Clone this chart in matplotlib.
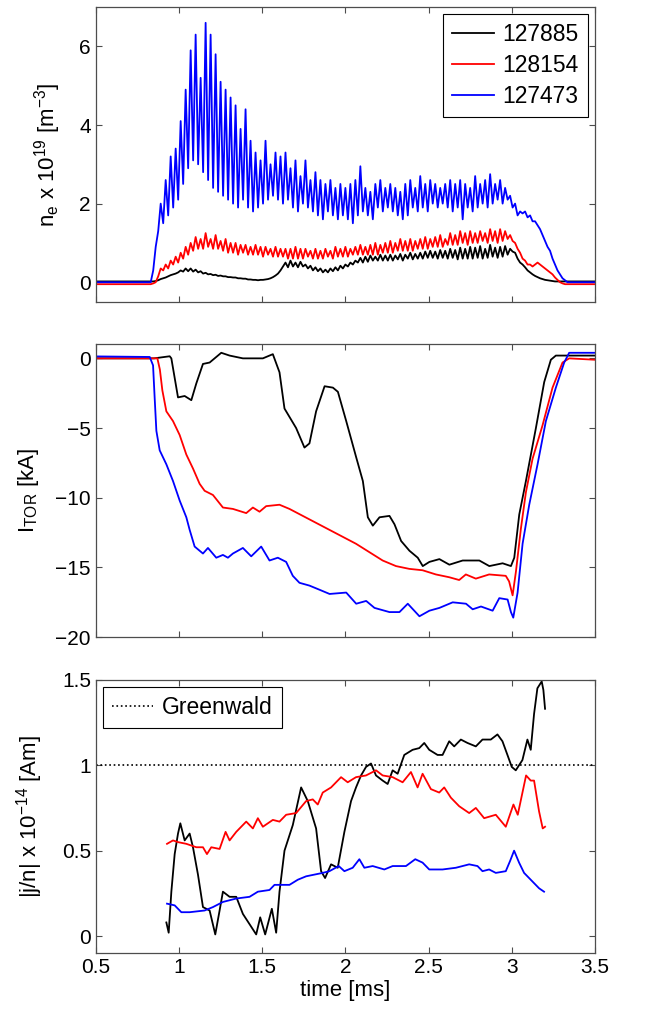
import numpy as np
import matplotlib
matplotlib.use("Agg")
import matplotlib.pyplot as plt

plt.rcParams['font.family'] = ['Liberation Sans', 'DejaVu Sans']
plt.rcParams['mathtext.default'] = 'regular'
plt.rcParams['font.size'] = 15

shots = ['127885', '128154', '127473']
colors = ['k', 'r', 'b']

# ---- top panel: n_e (sampled every 0.015 ms from 0.5 ms)
t_ne = np.round(0.5 + 0.015 * np.arange(201), 3)

ne_black = [0.02] * 23 + [
    0.02, 0.03, 0.05, 0.08, 0.1, 0.12, 0.15, 0.18, 0.2, 0.22,
    0.25, 0.3, 0.27, 0.35, 0.28, 0.35, 0.27, 0.32, 0.25, 0.28,
    0.22, 0.24, 0.2, 0.21, 0.18, 0.19, 0.16, 0.17, 0.15, 0.15,
    0.13, 0.13, 0.12, 0.12, 0.1, 0.1, 0.09, 0.09, 0.07, 0.07,
    0.06, 0.06, 0.05, 0.06, 0.06, 0.07, 0.08, 0.1, 0.13, 0.17,
    0.22, 0.3, 0.4, 0.5, 0.38, 0.55, 0.4, 0.5, 0.38, 0.52,
    0.4, 0.45, 0.35, 0.42, 0.3, 0.38, 0.28, 0.35, 0.25, 0.32,
    0.25, 0.35, 0.28, 0.38, 0.3, 0.42, 0.35, 0.45, 0.4, 0.5,
    0.45, 0.55, 0.5, 0.62, 0.5, 0.65, 0.52, 0.68, 0.55, 0.65,
    0.55, 0.7, 0.55, 0.68, 0.55, 0.7, 0.55, 0.68, 0.58, 0.72,
    0.55, 0.7, 0.6, 0.75, 0.58, 0.72, 0.6, 0.75, 0.6, 0.78,
    0.62, 0.8, 0.62, 0.78, 0.6, 0.82, 0.62, 0.8, 0.6, 0.85,
    0.62, 0.82, 0.58, 0.88, 0.6, 0.85, 0.6, 0.9, 0.6, 0.88,
    0.62, 0.92, 0.6, 0.85, 0.62, 0.95, 0.65, 0.88, 0.62, 0.9,
    0.65, 0.92, 0.7, 0.85, 0.78, 0.75, 0.6, 0.5, 0.45, 0.38,
    0.3, 0.25, 0.2, 0.16, 0.13, 0.1, 0.08, 0.06, 0.05, 0.04,
    0.03] + [0.02] * 17

ne_red = [-0.05] * 23 + [
    -0.03, 0.0, 0.15, 0.35, 0.3, 0.45, 0.35, 0.55, 0.45, 0.65,
    0.5, 0.75, 0.6, 0.9, 0.7, 1.0, 0.8, 1.15, 0.85, 1.1,
    0.85, 1.25, 0.9, 1.1, 0.85, 1.2, 0.85, 1.05, 0.8, 1.1,
    0.75, 1.0, 0.75, 1.0, 0.7, 0.95, 0.75, 0.95, 0.7, 0.9,
    0.7, 0.95, 0.7, 0.9, 0.65, 0.9, 0.7, 0.85, 0.65, 0.9,
    0.65, 0.85, 0.65, 0.85, 0.6, 0.85, 0.6, 0.9, 0.6, 0.85,
    0.6, 0.85, 0.65, 0.8, 0.6, 0.85, 0.6, 0.8, 0.6, 0.85,
    0.65, 0.8, 0.6, 0.9, 0.65, 0.85, 0.65, 0.9, 0.65, 0.85,
    0.7, 0.9, 0.7, 0.95, 0.7, 0.9, 0.7, 0.95, 0.7, 1.0,
    0.7, 0.95, 0.75, 1.0, 0.75, 1.05, 0.75, 1.0, 0.8, 1.1,
    0.8, 1.05, 0.8, 1.1, 0.8, 1.05, 0.85, 1.1, 0.85, 1.15,
    0.85, 1.1, 0.9, 1.15, 0.9, 1.2, 0.9, 1.1, 0.95, 1.25,
    0.95, 1.2, 0.95, 1.3, 1.0, 1.25, 0.95, 1.3, 1.0, 1.25,
    1.0, 1.3, 1.05, 1.25, 1.0, 1.35, 1.05, 1.3, 1.0, 1.35,
    1.05, 1.3, 1.1, 1.2, 1.05, 1.0, 0.85, 0.75, 0.6, 0.55,
    0.45, 0.45, 0.4, 0.45, 0.5, 0.45, 0.4, 0.35, 0.3, 0.25,
    0.2, 0.12, 0.06, 0.0, -0.03] + [-0.05] * 13

ne_blue = [0.0] * 23 + [
    0.3, 0.9, 1.3, 2.0, 1.5, 2.6, 1.7, 3.2, 1.9, 3.4,
    2.1, 4.1, 2.5, 4.9, 2.9, 5.9, 3.1, 6.3, 3.0, 5.2,
    2.8, 6.6, 2.6, 6.3, 2.4, 5.8, 2.3, 5.1, 2.2, 4.9,
    2.1, 4.7, 2.0, 4.5, 1.9, 3.9, 2.1, 4.4, 1.9, 3.6,
    1.8, 3.3, 1.9, 3.1, 2.0, 3.6, 2.1, 3.0, 2.2, 3.3,
    2.1, 3.2, 2.0, 3.3, 2.1, 2.9, 1.9, 3.1, 1.8, 2.7,
    2.0, 3.1, 1.9, 2.6, 1.8, 2.8, 1.7, 2.6, 1.6, 2.5,
    1.8, 2.6, 1.7, 2.4, 1.6, 2.5, 1.7, 2.4, 1.6, 2.5,
    1.5, 2.6, 1.7, 2.95, 1.8, 2.4, 1.7, 2.3, 1.6, 2.5,
    1.9, 2.6, 1.8, 2.4, 1.9, 2.5, 1.8, 2.4, 1.7, 2.3,
    1.6, 2.5, 1.7, 2.6, 1.9, 2.4, 1.8, 2.7, 1.9, 2.5,
    1.8, 2.6, 2.0, 2.5, 1.9, 2.4, 2.0, 2.5, 1.9, 2.6,
    1.8, 2.5, 1.9, 2.6, 1.6, 2.5, 1.9, 2.4, 1.8, 2.7,
    1.9, 2.5, 2.0, 2.6, 1.9, 2.75, 2.0, 2.5, 2.1, 2.6,
    2.0, 2.4, 2.1, 2.2, 1.9, 2.0, 1.7, 1.8, 1.75, 1.8,
    1.65, 1.7, 1.55, 1.55, 1.45, 1.35, 1.2, 1.05, 0.9, 0.8,
    0.6, 0.45, 0.3, 0.2, 0.1, 0.05] + [0.0] * 12

# ---- middle panel: toroidal current [kA]
t_itor_black = [0.5, 0.85, 0.944, 0.954, 0.994, 1.034, 1.074, 1.104, 1.144, 1.184,
                1.254, 1.304, 1.384, 1.504, 1.564, 1.604, 1.634, 1.704, 1.754, 1.784,
                1.824, 1.875, 1.925, 1.955, 2.005, 2.065, 2.105, 2.135, 2.165, 2.205,
                2.265, 2.295, 2.335, 2.385, 2.435, 2.465, 2.505, 2.565, 2.625, 2.705,
                2.805, 2.865, 2.945, 2.995, 3.015, 3.045, 3.085, 3.145, 3.195, 3.235,
                3.265, 3.5]
itor_black = [0.0, 0.0, 0.15, 0.0, -2.8, -2.7, -3.0, -1.8, -0.4, -0.3,
              0.4, 0.2, 0.0, 0.0, 0.3, -1.0, -3.6, -5.0, -6.4, -6.1,
              -3.8, -2.0, -2.1, -2.4, -4.5, -7.1, -8.8, -11.4, -12.0, -11.4,
              -11.3, -11.9, -13.1, -13.8, -14.3, -14.9, -14.6, -14.4, -14.8, -14.5,
              -14.5, -14.9, -14.7, -14.9, -14.3, -11.2, -8.8, -5.0, -1.7, -0.1,
              0.2, 0.2]

t_itor_red = [0.5, 0.87, 0.885, 0.90, 0.924, 0.964, 1.004, 1.044, 1.084, 1.124,
              1.154, 1.204, 1.264, 1.324, 1.404, 1.444, 1.484, 1.524, 1.604, 1.664,
              1.744, 1.824, 1.904, 1.984, 2.064, 2.144, 2.224, 2.304, 2.384, 2.464,
              2.544, 2.624, 2.684, 2.724, 2.784, 2.864, 2.964, 2.984, 3.005, 3.025,
              3.055, 3.085, 3.125, 3.185, 3.245, 3.305, 3.345, 3.5]
itor_red = [0.0, 0.0, -0.8, -2.3, -3.8, -4.5, -5.5, -6.9, -7.9, -9.0,
            -9.5, -9.8, -10.7, -10.8, -11.1, -10.7, -11.0, -10.6, -10.5, -10.8,
            -11.3, -11.8, -12.3, -12.8, -13.3, -13.9, -14.5, -14.9, -15.1, -15.2,
            -15.5, -15.7, -15.9, -15.5, -15.8, -15.5, -15.6, -16.0, -17.0, -15.3,
            -12.2, -9.6, -7.2, -4.8, -2.1, -0.3, 0.0, -0.1]

t_itor_blue = [0.5, 0.824, 0.844, 0.854, 0.864, 0.884, 0.924, 0.964, 1.004, 1.044,
               1.064, 1.094, 1.144, 1.174, 1.224, 1.264, 1.294, 1.324, 1.384, 1.434,
               1.494, 1.544, 1.594, 1.644, 1.684, 1.724, 1.784, 1.845, 1.905, 2.005,
               2.065, 2.125, 2.175, 2.265, 2.325, 2.375, 2.445, 2.505, 2.565, 2.645,
               2.725, 2.765, 2.815, 2.885, 2.925, 2.975, 2.995, 3.009, 3.035, 3.065,
               3.105, 3.155, 3.205, 3.265, 3.315, 3.345, 3.5]
itor_blue = [0.14, 0.1, -0.5, -2.9, -5.2, -6.6, -7.6, -8.8, -10.2, -11.4,
             -12.3, -13.5, -14.0, -13.6, -14.3, -14.1, -14.3, -14.0, -13.6, -14.2,
             -13.5, -14.5, -14.3, -14.6, -15.6, -16.1, -16.3, -16.6, -16.9, -16.8,
             -17.6, -17.4, -17.9, -18.2, -18.2, -17.6, -18.5, -18.1, -17.9, -17.5,
             -17.6, -18.0, -17.8, -18.1, -17.2, -17.3, -18.2, -18.6, -16.8, -13.3,
             -10.5, -7.6, -4.5, -2.1, -0.3, 0.4, 0.4]

# ---- bottom panel: |j/n| x 1e-14 [Am]
t_jn_black = [0.924, 0.938, 0.954, 0.974, 0.994, 1.008, 1.034, 1.064, 1.084, 1.114,
              1.144, 1.184, 1.218, 1.244, 1.264, 1.304, 1.344, 1.384, 1.424, 1.464,
              1.488, 1.518, 1.558, 1.584, 1.604, 1.634, 1.684, 1.734, 1.774, 1.824,
              1.854, 1.878, 1.914, 1.954, 1.994, 2.034, 2.064, 2.094, 2.124, 2.154,
              2.184, 2.224, 2.254, 2.284, 2.314, 2.354, 2.404, 2.444, 2.474, 2.504,
              2.554, 2.584, 2.624, 2.654, 2.694, 2.734, 2.784, 2.824, 2.874, 2.914,
              2.944, 2.974, 3.0, 3.024, 3.064, 3.094, 3.114, 3.134, 3.154, 3.18,
              3.19, 3.2]
jn_black = [0.08, 0.02, 0.26, 0.48, 0.60, 0.66, 0.56, 0.60, 0.52, 0.36,
            0.17, 0.15, 0.01, 0.15, 0.26, 0.23, 0.23, 0.13, 0.07, 0.01,
            0.11, 0.01, 0.16, 0.02, 0.26, 0.50, 0.65, 0.87, 0.79, 0.63,
            0.38, 0.34, 0.42, 0.40, 0.61, 0.79, 0.87, 0.94, 0.99, 1.01,
            0.94, 0.91, 0.89, 0.97, 0.95, 1.06, 1.09, 1.10, 1.13, 1.09,
            1.06, 1.06, 1.14, 1.11, 1.15, 1.13, 1.11, 1.15, 1.15, 1.18,
            1.14, 1.06, 0.99, 0.97, 1.03, 1.15, 1.09, 1.30, 1.45, 1.49,
            1.44, 1.33]

t_jn_red = [0.928, 0.964, 0.994, 1.044, 1.104, 1.144, 1.168, 1.194, 1.244, 1.28,
            1.304, 1.344, 1.404, 1.444, 1.474, 1.504, 1.564, 1.604, 1.644, 1.704,
            1.764, 1.804, 1.834, 1.864, 1.914, 1.974, 2.014, 2.064, 2.124, 2.184,
            2.224, 2.284, 2.344, 2.394, 2.434, 2.464, 2.514, 2.564, 2.594, 2.634,
            2.684, 2.744, 2.784, 2.834, 2.904, 2.964, 3.01, 3.036, 3.086, 3.114,
            3.134, 3.164, 3.186, 3.2]
jn_red = [0.54, 0.56, 0.55, 0.54, 0.52, 0.52, 0.48, 0.52, 0.51, 0.61,
          0.56, 0.61, 0.67, 0.63, 0.69, 0.64, 0.68, 0.67, 0.71, 0.72,
          0.79, 0.80, 0.77, 0.84, 0.87, 0.93, 0.90, 0.93, 0.94, 0.97,
          0.94, 0.93, 0.90, 0.96, 0.87, 0.95, 0.86, 0.84, 0.87, 0.81,
          0.76, 0.72, 0.75, 0.69, 0.71, 0.64, 0.77, 0.71, 0.94, 0.91,
          0.91, 0.73, 0.63, 0.64]

t_jn_blue = [0.928, 0.974, 1.014, 1.064, 1.154, 1.204, 1.264, 1.344, 1.424, 1.474,
             1.544, 1.574, 1.664, 1.714, 1.764, 1.864, 1.904, 1.96, 1.994, 2.044,
             2.084, 2.114, 2.164, 2.234, 2.284, 2.364, 2.42, 2.464, 2.504, 2.584,
             2.664, 2.744, 2.794, 2.824, 2.864, 2.904, 2.964, 2.99, 3.014, 3.044,
             3.074, 3.124, 3.164, 3.194]
jn_blue = [0.19, 0.18, 0.14, 0.14, 0.15, 0.17, 0.20, 0.22, 0.23, 0.26,
           0.27, 0.30, 0.30, 0.33, 0.35, 0.37, 0.38, 0.41, 0.38, 0.40,
           0.45, 0.40, 0.41, 0.39, 0.41, 0.41, 0.45, 0.43, 0.39, 0.39,
           0.40, 0.42, 0.41, 0.38, 0.39, 0.37, 0.38, 0.44, 0.50, 0.43,
           0.37, 0.32, 0.28, 0.26]

greenwald = 1.0

fig = plt.figure(figsize=(6.7, 10.13), dpi=100)
ax1 = fig.add_axes([0.143, 0.702, 0.745, 0.291])
ax2 = fig.add_axes([0.143, 0.371, 0.745, 0.289])
ax3 = fig.add_axes([0.143, 0.059, 0.745, 0.270])

lw = 1.3
lab_fs = 16
leg_fs = 16.5

for y, c, s in zip([ne_black, ne_red, ne_blue], colors, shots):
    ax1.plot(t_ne, y, color=c, lw=lw, label=s)
ax1.set_ylim(-0.5, 7)
ax1.set_yticks([0, 2, 4, 6])
ax1.set_ylabel(r'n$_e$ x 10$^{19}$ [m$^{-3}$]', fontsize=lab_fs, labelpad=12)
leg = ax1.legend(loc='upper right', fancybox=False, edgecolor='k', framealpha=1,
                 borderaxespad=0.3, handlelength=1.8, handletextpad=0.4,
                 labelspacing=0.35, fontsize=leg_fs)
leg.get_frame().set_linewidth(0.8)

ax2.plot(t_itor_black, itor_black, color='k', lw=lw)
ax2.plot(t_itor_red, itor_red, color='r', lw=lw)
ax2.plot(t_itor_blue, itor_blue, color='b', lw=lw)
ax2.set_ylim(-20, 1)
ax2.set_yticks([0, -5, -10, -15, -20])
ax2.set_ylabel(r'I$_{TOR}$ [kA]', fontsize=lab_fs, labelpad=10)

ax3.axhline(greenwald, color='k', ls=':', lw=1.2, label='Greenwald')
ax3.plot(t_jn_black, jn_black, color='k', lw=lw)
ax3.plot(t_jn_red, jn_red, color='r', lw=lw)
ax3.plot(t_jn_blue, jn_blue, color='b', lw=lw)
ax3.set_ylim(-0.1, 1.5)
ax3.set_yticks([0, 0.5, 1, 1.5])
ax3.set_yticklabels(['0', '0.5', '1', '1.5'])
ax3.set_ylabel(r'|j/n| x 10$^{-14}$ [Am]', fontsize=lab_fs, labelpad=12)
ax3.set_xlabel('time [ms]', fontsize=lab_fs, labelpad=2)
leg3 = ax3.legend(loc='upper left', fancybox=False, edgecolor='k', framealpha=1,
                  borderaxespad=0.3, handlelength=1.8, handletextpad=0.4,
                  fontsize=leg_fs)
leg3.get_frame().set_linewidth(0.8)

for ax in [ax1, ax2, ax3]:
    ax.set_xlim(0.5, 3.5)
    ax.set_xticks([0.5, 1, 1.5, 2, 2.5, 3, 3.5])
    ax.tick_params(direction='in', top=True, right=True, length=4, width=0.8,
                   color='0.3', labelsize=15)
    for sp in ax.spines.values():
        sp.set_color('0.3')
        sp.set_linewidth(0.9)
ax1.set_xticklabels([])
ax2.set_xticklabels([])
ax3.set_xticklabels(['0.5', '1', '1.5', '2', '2.5', '3', '3.5'])

fig.savefig('out.png', dpi=100)
